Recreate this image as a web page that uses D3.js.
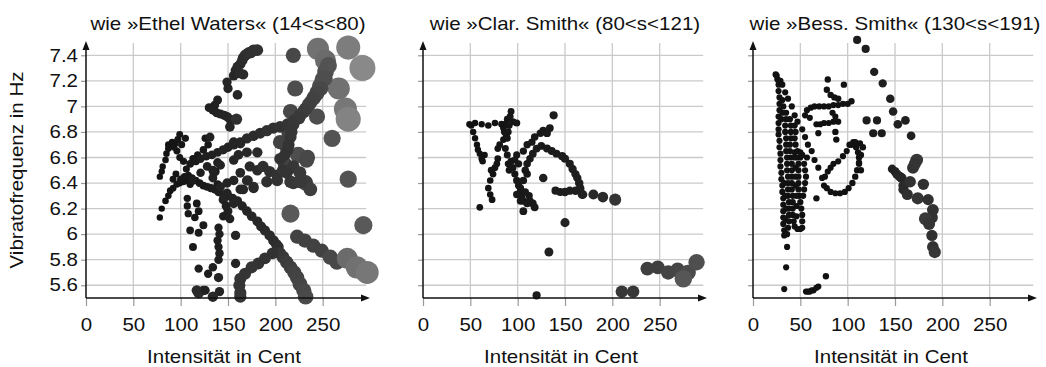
<!DOCTYPE html>
<html>
<head>
<meta charset="utf-8">
<script src="https://cdn.jsdelivr.net/npm/d3@7"></script>
<style>
  body { margin: 0; background: #fff; }
  text { font-family: "Liberation Sans", Arial, sans-serif; fill: #111; }
</style>
</head>
<body>
<script>
// tick values and titles
var xTicks = [0, 50, 100, 150, 200, 250];
var yTicks = [5.6, 5.8, 6, 6.2, 6.4, 6.6, 6.8, 7, 7.2, 7.4];
var titles = ["wie \u00bbEthel Waters\u00ab (14<s<80)", "wie \u00bbClar. Smith\u00ab (80<s<121)", "wie \u00bbBess. Smith\u00ab (130<s<191)"];

// [intensity in cent, vibrato rate in Hz, loudness]
var ethel = [
  [219,7.40,5],[245,7.45,8.5],[253,7.36,8],[277,7.46,9.5],[292,7.30,10.5],[221,7.14,5.5],[267,7.14,8.5],
  [274,6.98,9],[277,6.90,10],[244,6.92,5.5],[260,6.75,6],[277,6.43,6],[216,6.16,6.5],[293,6.07,6.5],
  [205,6.72,4.5],[212,6.68,4.5],[224,6.62,5.5],[233,6.58,5],[216,6.96,5],[214,6.79,4.5],[234,6.60,5],
  [232,6.40,5],[210,6.55,4.5],[215,6.52,4.5],
  [223,5.98,4.5],[231,5.95,4.5],[240,5.91,4.5],[249,5.87,4.5],[258,5.82,5],[265,5.78,5],[276,5.81,8],[286,5.74,8.5],[297,5.70,9],
  [78,6.13,0.5],[80,6.20,0.5],[84,6.26,0.6],[87,6.30,0.6],[89,6.34,0.7],[92,6.36,0.7],[96,6.39,0.8],[99,6.40,0.8],
  [103,6.41,0.8],[107,6.42,0.9],[78,6.45,0.5],[80,6.49,0.5],[81,6.53,0.5],[84,6.58,0.6],[85,6.63,0.6],[87,6.67,0.7],
  [87,6.70,0.7],[91,6.72,0.7],[94,6.71,0.8],[99,6.78,0.8],[105,6.75,0.9],[96,6.65,0.8],[99,6.60,0.8],[103,6.57,0.9],
  [106,6.51,0.9],[108,6.44,0.9],[110,6.39,1],[113,6.59,1],[118,6.62,1],[124,6.66,1.1],[126,6.75,1.1],[129,6.70,1.1],
  [137,6.49,1.3],[139,6.39,1.3],[93,6.68,0.8],[101,6.70,0.9],[97,6.74,0.8],[95,6.47,0.8],[92,6.43,0.8],
  [100,6.43,0.9],[104,6.45,0.9],[108,6.46,1],[112,6.44,1],[116,6.42,1.1],[120,6.40,1.2],[124,6.38,1.2],[128,6.37,1.3],
  [132,6.36,1.4],[136,6.35,1.5],[140,6.33,1.6],[145,6.31,1.7],[150,6.30,1.8],[155,6.28,1.9],[160,6.26,2],
  [165,6.22,2],[170,6.18,2.1],[175,6.14,2.2],[181,6.10,2.3],[185,6.06,2.4],[189,6.03,2.5],[194,5.99,2.6],[198,5.95,2.7],
  [201,5.92,2.8],[203,5.90,2.9],
  [205,5.85,3.5],[208,5.82,3.8],[212,5.78,4],[216,5.74,4.2],[220,5.70,4.5],[223,5.66,4.6],[226,5.61,4.8],[230,5.56,5],[232,5.51,5.2],
  [197,5.85,3.2],[189,5.81,3.3],[182,5.77,3.3],[175,5.74,3.4],[168,5.69,3.4],[163,5.65,3.4],[162,5.60,3.4],[163,5.54,3.5],[163,5.51,3.5],
  [110,6.55,1.2],[116,6.57,1.3],[121,6.59,1.5],[127,6.61,1.6],[133,6.62,1.7],[139,6.64,1.8],[145,6.66,2],[150,6.68,2],
  [156,6.70,2.2],[163,6.72,2.3],[170,6.75,2.5],[177,6.77,2.6],[184,6.79,2.8],[191,6.81,3],[198,6.83,3],[205,6.84,3.2],
  [213,6.86,3.4],[220,6.89,3.6],[226,6.93,3.8],[232,6.98,4],[237,7.03,4.3],[241,7.07,4.6],[244,7.11,4.9],[247,7.16,5.2],
  [250,7.21,5.5],[253,7.27,5.8],[256,7.32,6],
  [252,7.22,5.5],[248,7.14,5],[244,7.10,4.8],[240,7.06,4.5],[235,7.01,4.3],[230,6.96,4],[225,6.91,3.8],[219,6.86,3.6],
  [217,6.80,3.5],[216,6.76,3.5],[214,6.70,3.4],[213,6.66,3.4],[210,6.62,3.2],[205,6.59,3.2],
  [113,6.42,1.5],[121,6.48,1.6],[128,6.53,1.7],[139,6.56,1.8],[135,6.48,1.8],[142,6.37,1.9],[149,6.32,2],[145,6.27,2],
  [156,6.42,2.1],[163,6.48,2.2],[171,6.42,2.3],[177,6.36,2.4],[166,6.35,2.3],[156,6.24,2.1],[181,6.50,2.6],[187,6.53,3],
  [194,6.49,3],[202,6.46,3.2],[208,6.50,3.4],[219,6.53,3.6],[226,6.48,3.8],[232,6.41,4],[237,6.35,4.2],[216,6.41,3.6],
  [173,6.53,2.5],[134,6.44,1.8],[149,6.40,2],[163,6.35,2.2],[170,6.42,2.4],[177,6.37,2.5],[191,6.41,3],[202,6.42,3.2],
  [212,6.48,3.4],[219,6.40,3.6],[226,6.41,3.8],
  [134,6.50,1.8],[142,6.54,1.9],[156,6.58,2.1],[161,6.62,2.2],[170,6.64,2.3],[181,6.64,2.5],[163,6.71,2.3],[131,6.76,1.8],
  [140,6.05,1.5],[141,6.00,1.5],[139,5.95,1.5],[140,5.90,1.5],[141,5.85,1.6],[140,5.80,1.6],
  [150,6.18,1.8],[148,6.22,1.8],[145,6.14,1.6],[152,6.12,1.8],
  [158,5.99,2],[158,5.77,2],[140,5.66,2],[141,5.55,2],[134,5.51,2.5],[124,5.56,2],[119,5.54,2.8],
  [107,6.28,1],[107,6.22,1],[117,6.24,1.2],[119,6.18,1.2],[108,6.16,1],[115,6.13,1.1],[110,6.03,1.2],[119,6.01,1.3],
  [124,6.07,1.3],[113,5.90,1.3],[119,5.73,1.5],[129,5.69,1.5],[134,5.74,1.6],[117,5.56,2.5],[126,5.56,1.8],
  [139,7.05,1.8],[136,7.01,1.8],[130,6.99,1.7],[134,6.97,1.8],[138,6.95,1.8],[142,6.94,1.9],[146,6.93,2],[149,6.92,2],
  [152,6.90,2.1],[159,6.90,3],[152,6.84,2.2],[156,6.72,2.2],
  [149,7.19,2],[150,7.14,2],[160,7.09,2.2],[156,7.24,2.2],[158,7.28,2.3],[160,7.31,2.4],[163,7.33,2.5],[165,7.36,2.6],
  [166,7.38,2.7],[168,7.40,2.8],[170,7.41,2.9],[172,7.42,3],[174,7.42,3],[177,7.44,3.1],[181,7.44,3.2],[166,7.25,2.5],[162,7.26,2.5]
];

var clar = [
  [49,6.86,0.5],[51,6.85,0.5],[53,6.80,0.5],[55,6.75,0.5],[57,6.70,0.5],[58,6.66,0.5],[60,6.63,0.5],[62,6.59,0.6],
  [63,6.57,0.6],[65,6.62,0.6],
  [55,6.87,0.5],[62,6.86,0.5],[69,6.85,0.6],[76,6.87,0.6],[83,6.86,0.7],[85,6.83,0.7],[89,6.90,0.7],[93,6.96,0.8],
  [95,6.88,0.8],[99,6.87,0.9],[87,6.86,0.7],[91,6.85,0.8],[92,6.92,0.8],
  [90,6.80,0.8],[89,6.75,0.8],[85,6.74,0.7],[81,6.70,0.7],[79,6.67,0.7],[87,6.67,0.8],[88,6.77,0.8],[86,6.80,0.8],
  [89,6.62,0.8],[90,6.55,0.8],[91,6.50,0.8],[79,6.59,0.7],
  [78,6.55,0.7],[76,6.52,0.7],[74,6.47,0.7],[71,6.42,0.6],[69,6.36,0.6],[71,6.31,0.6],[73,6.27,0.7],[60,6.21,0.7],[72,6.50,0.7],
  [93,6.57,0.9],[95,6.52,0.9],[97,6.47,0.9],[99,6.42,1],[101,6.38,1],[103,6.34,1],[104,6.29,1],[106,6.26,1.1],
  [110,6.24,1.1],[113,6.26,1.1],[116,6.24,1.2],[118,6.21,1.2],[106,6.18,1.2],
  [110,6.47,1.1],[106,6.42,1.1],[103,6.36,1],[99,6.31,1],[103,6.26,1.1],[99,6.62,0.9],[106,6.65,1],[97,6.58,0.9],
  [101,6.55,1],[108,6.50,1.1],[112,6.30,1.1],[108,6.33,1.1],
  [110,6.70,1],[115,6.72,1],[118,6.76,1.1],[124,6.79,1.1],[127,6.81,1.1],[131,6.79,1.2],[134,6.83,1.2],[138,6.93,1.4],
  [110,6.55,1.1],[113,6.59,1.1],[116,6.63,1.2],[120,6.67,1.2],[125,6.69,1.2],[131,6.67,1.3],[136,6.65,1.3],[141,6.63,1.3],
  [147,6.61,1.4],[150,6.59,1.4],[155,6.55,1.4],[158,6.51,1.5],[161,6.47,1.5],[163,6.44,1.5],[165,6.40,1.6],[166,6.36,1.6],[168,6.31,1.7],
  [140,6.34,1.4],[145,6.33,1.4],[150,6.33,1.5],[155,6.34,1.5],[161,6.34,1.6],[166,6.34,1.6],[169,6.31,1.7],
  [180,6.31,2.4],[190,6.29,2.7],[203,6.27,3.4],
  [127,6.44,1.6],[150,6.09,1.9],[133,5.86,1.8],[120,5.52,1.4],
  [210,5.55,3.6],[222,5.55,3.6],[237,5.73,4.3],[248,5.74,4.3],[259,5.70,4.6],[269,5.72,4.8],[280,5.70,5.2],[275,5.65,6.2],[289,5.78,5.6]
];

var bess = [
  [25,7.24,0.4],[26,7.21,0.4],[27,7.17,0.4],[27,7.12,0.4],[28,7.07,0.4],[28,7.02,0.4],[28,6.97,0.4],[27,6.92,0.4],
  [27,6.87,0.4],[27,6.82,0.4],[27,6.78,0.4],[28,6.73,0.4],[28,6.68,0.4],[29,6.63,0.4],[29,6.58,0.4],[29,6.53,0.4],
  [30,6.48,0.4],[30,6.43,0.4],[31,6.38,0.4],[31,6.33,0.4],[32,6.28,0.4],[32,6.23,0.4],[32,6.18,0.4],[32,6.13,0.4],
  [32,6.08,0.4],[33,6.03,0.4],[33,5.99,0.4],
  [24,7.25,0.5],[26,7.21,0.4],[29,7.20,0.4],[31,7.17,0.4],[34,7.11,0.4],[37,7.06,0.4],[41,7.00,0.4],[44,6.93,0.4],[47,6.88,0.4],
  [52,6.82,0.4],[55,6.76,0.4],[58,6.70,0.4],[62,6.65,0.4],[65,6.58,0.4],[69,6.52,0.4],[73,6.44,0.4],[75,6.38,0.4],
  [78,6.36,0.4],[82,6.33,0.4],[87,6.32,0.4],[92,6.32,0.4],[97,6.33,0.4],[101,6.36,0.4],[105,6.40,0.5],[108,6.45,0.5],
  [110,6.50,0.5],[112,6.55,0.5],[112,6.60,0.5],[111,6.64,0.5],[109,6.68,0.5],[106,6.72,0.5],
  [104,6.70,0.5],[108,6.72,0.5],[113,6.71,0.5],[116,6.68,0.6],[114,6.62,0.5],[112,6.56,0.5],[114,6.50,0.5],
  [76,6.45,0.4],[79,6.49,0.4],[82,6.52,0.4],[85,6.55,0.4],[90,6.57,0.4],[95,6.61,0.4],[99,6.65,0.4],[102,6.70,0.5],
  [57,6.97,0.4],[61,6.99,0.4],[65,7.00,0.4],[70,7.00,0.4],[75,7.00,0.4],[80,7.00,0.4],[85,7.01,0.4],[90,7.01,0.4],
  [95,7.02,0.4],[100,7.02,0.5],[104,7.04,0.5],[55,6.93,0.4],[60,6.91,0.4],
  [67,6.86,0.4],[71,6.86,0.4],[75,6.87,0.4],[80,6.87,0.4],[85,6.88,0.4],[90,6.88,0.4],[87,6.92,0.4],[84,6.95,0.4],
  [79,7.21,0.5],[96,7.17,0.5],[78,7.13,0.5],[82,7.09,0.5],[86,7.07,0.5],[90,7.06,0.5],[69,6.79,0.4],[88,6.74,0.5],
  [87,6.80,0.5],[67,6.28,0.5],
  [39,6.90,0.4],[40,6.85,0.4],[40,6.80,0.4],[40,6.75,0.4],[39,6.70,0.4],[39,6.65,0.4],[40,6.60,0.4],[41,6.55,0.4],
  [41,6.50,0.4],[41,6.45,0.4],[41,6.40,0.4],[41,6.35,0.4],[42,6.30,0.4],[42,6.25,0.4],[42,6.20,0.4],[42,6.15,0.4],
  [43,6.10,0.4],[44,6.06,0.4],[47,6.04,0.4],[50,6.04,0.4],[52,6.05,0.4],[52,6.10,0.4],[52,6.15,0.4],[51,6.20,0.4],
  [50,6.25,0.4],[49,6.30,0.4],[48,6.35,0.4],[48,6.40,0.4],[48,6.45,0.4],[48,6.50,0.4],[48,6.55,0.4],[47,6.60,0.4],
  [44,6.64,0.4],[47,6.65,0.4],[50,6.64,0.4],[50,6.60,0.4],[44,6.60,0.4],
  [35,6.95,0.4],[35,6.90,0.4],[34,6.85,0.4],[34,6.80,0.4],[35,6.75,0.4],[35,6.70,0.4],[35,6.65,0.4],[36,6.60,0.4],
  [36,6.55,0.4],[36,6.50,0.4],[37,6.45,0.4],[37,6.40,0.4],[37,6.35,0.4],[37,6.30,0.4],[38,6.25,0.4],[38,6.20,0.4],
  [38,6.15,0.4],[38,6.10,0.4],[37,6.05,0.4],[36,6.00,0.4],[31,7.05,0.4],[32,7.00,0.4],[31,6.95,0.4],[30,6.90,0.4],
  [44,6.85,0.4],[45,6.80,0.4],[44,6.75,0.4],[45,6.70,0.4],[45,6.52,0.4],[45,6.45,0.4],[45,6.38,0.4],[46,6.30,0.4],
  [46,6.22,0.4],[46,6.14,0.4],[33,6.40,0.4],[34,6.30,0.4],[35,6.20,0.4],[34,6.12,0.4],
  [54,6.55,0.4],[55,6.50,0.4],[56,6.45,0.4],[55,6.40,0.4],[54,6.35,0.4],[53,6.30,0.4],[57,6.60,0.4],[52,6.62,0.4],
  [36,5.90,0.4],[35,5.74,0.4],[33,5.57,0.4],[56,5.55,0.4],[58,5.55,0.4],[60,5.55,0.4],[62,5.56,0.4],[64,5.56,0.4],
  [67,5.58,0.4],[69,5.59,0.4],[77,5.67,0.5],
  [110,7.52,1.4],[119,7.45,1.4],[128,7.27,1.5],[137,7.18,1.5],[145,7.06,1.6],[148,6.96,1.6],[153,6.86,1.7],[161,6.89,1.7],
  [167,6.77,1.7],[120,6.89,1.4],[131,6.89,1.4],[127,6.79,1.4],[136,6.79,1.4],
  [147,6.51,1.7],[150,6.49,1.8],[152,6.47,2],[155,6.45,2.2],[157,6.44,2.3],[159,6.38,2.5],[159,6.35,2.5],[163,6.31,2.9],
  [166,6.41,3.1],[169,6.52,3.3],[173,6.58,3.7],[171,6.55,3.4],[180,6.39,3],[174,6.28,3.4],[185,6.27,3],[190,6.19,3.3],
  [189,6.13,3.3],[182,6.12,3.8],[186,6.08,3.4],[189,5.99,3],[190,5.90,3.2],[192,5.86,3.5]
];

var panels = [
  {data: ethel, left: 86, labels: true},
  {data: clar, left: 423, labels: false},
  {data: bess, left: 753, labels: false}
];

var W = 1046, H = 367;
var plotW = 284;
var fontSize = 18;
var stretch = "scale(1.14,1)";

var svg = d3.select("body").append("svg")
  .attr("width", W)
  .attr("height", H);

var y = d3.scaleLinear().domain([5.5, 7.5]).range([298, 42.5]);
var rScale = d3.scaleLinear().domain([0, 11]).range([2.7, 13.5]);
var grayScale = d3.scaleLinear().domain([0, 11]).range(["#0c0c0c", "#8f8f8f"]);

panels.forEach(function(p, i) {
  var x = d3.scaleLinear().domain([0, 300]).range([p.left, p.left + plotW]);
  var g = svg.append("g").attr("class", "panel" + i);

  // grid
  g.selectAll(".vgrid")
    .data(xTicks.filter(function(d) { return d > 0; }))
    .join("line")
    .attr("class", "vgrid")
    .attr("x1", x).attr("x2", x)
    .attr("y1", 43).attr("y2", 298)
    .attr("stroke", "#cacaca").attr("stroke-width", 1.3);

  g.selectAll(".hgrid")
    .data(yTicks)
    .join("line")
    .attr("class", "hgrid")
    .attr("x1", x(0)).attr("x2", x(296))
    .attr("y1", y).attr("y2", y)
    .attr("stroke", "#cacaca").attr("stroke-width", 1.3);

  // x axis ticks and labels
  var xAxis = g.append("g")
    .attr("transform", "translate(0,298)")
    .call(d3.axisBottom(x).tickValues(xTicks).tickSize(8).tickPadding(12));
  xAxis.select(".domain").remove();
  xAxis.selectAll(".tick line").attr("stroke", "#9a9a9a").attr("stroke-width", 1.2);
  xAxis.selectAll(".tick text")
    .attr("font-size", fontSize)
    .attr("font-family", "Liberation Sans, Arial, sans-serif")
    .attr("fill", "#111")
    .attr("transform", stretch);

  // y axis ticks and labels
  var yAxis = g.append("g")
    .attr("transform", "translate(" + x(0) + ",0)")
    .call(d3.axisLeft(y).tickValues(yTicks).tickSize(5).tickPadding(2)
      .tickFormat(function(d) { return p.labels ? String(+d.toFixed(1)) : ""; }));
  yAxis.select(".domain").remove();
  yAxis.selectAll(".tick line").attr("stroke", "#9a9a9a").attr("stroke-width", 1.2);
  yAxis.selectAll(".tick text")
    .attr("font-size", fontSize)
    .attr("font-family", "Liberation Sans, Arial, sans-serif")
    .attr("fill", "#111")
    .attr("transform", stretch);

  // points
  g.selectAll(".pt")
    .data(p.data)
    .join("circle")
    .attr("class", "pt")
    .attr("cx", function(d) { return x(d[0]); })
    .attr("cy", function(d) { return y(d[1]); })
    .attr("r", function(d) { return rScale(d[2]); })
    .attr("fill", function(d) { return grayScale(d[2]); });

  // axis lines with arrow heads
  var x0 = x(0), y0 = y(5.5);
  g.append("line")
    .attr("x1", x0).attr("x2", x0)
    .attr("y1", y0).attr("y2", 48)
    .attr("stroke", "#111").attr("stroke-width", 1.5);
  g.append("path")
    .attr("d", "M" + x0 + ",41 L" + (x0 - 3.5) + ",50 L" + (x0 + 3.5) + ",50 Z")
    .attr("fill", "#111");
  g.append("line")
    .attr("x1", x0).attr("x2", x0 + plotW - 6)
    .attr("y1", y0).attr("y2", y0)
    .attr("stroke", "#111").attr("stroke-width", 1.5);
  g.append("path")
    .attr("d", "M" + (x0 + plotW) + "," + y0 + " L" + (x0 + plotW - 9) + "," + (y0 - 3.5) +
      " L" + (x0 + plotW - 9) + "," + (y0 + 3.5) + " Z")
    .attr("fill", "#111");

  // title and x label
  g.append("text")
    .attr("transform", "translate(" + (x0 + plotW / 2) + ",30) " + stretch)
    .attr("text-anchor", "middle")
    .attr("font-size", fontSize)
    .text(titles[i]);

  g.append("text")
    .attr("transform", "translate(" + (x0 + plotW / 2 - 4) + ",363) " + stretch)
    .attr("text-anchor", "middle")
    .attr("font-size", fontSize)
    .text("Intensit\u00e4t in Cent");
});

svg.append("text")
  .attr("transform", "translate(23,170) rotate(-90) " + stretch)
  .attr("text-anchor", "middle")
  .attr("font-size", fontSize)
  .text("Vibratofrequenz in Hz");
</script>
</body>
</html>
